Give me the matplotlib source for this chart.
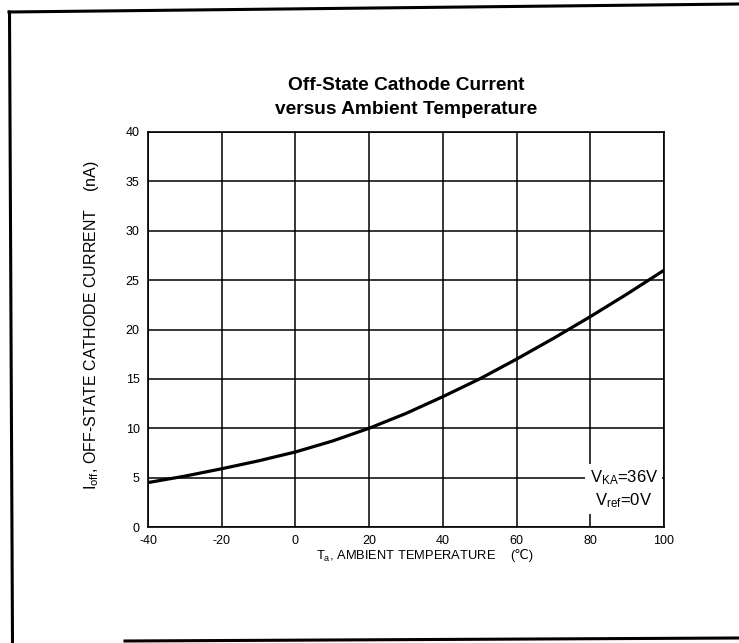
import matplotlib
matplotlib.use("Agg")
import matplotlib.pyplot as plt
from matplotlib.lines import Line2D

plt.rcParams['font.family'] = ['Liberation Sans', 'DejaVu Sans']
plt.rcParams['mathtext.fontset'] = 'custom'
plt.rcParams['mathtext.rm'] = 'Liberation Sans'
plt.rcParams['mathtext.it'] = 'Liberation Sans'
plt.rcParams['axes.unicode_minus'] = False

# data
temp_c = [-40, -30, -20, -10, 0, 10, 20, 30, 40, 50, 60, 70, 80, 90, 100]
i_off = [4.5, 5.15, 5.9, 6.7, 7.6, 8.7, 10.0, 11.5, 13.2, 15.0, 17.0, 19.1, 21.3, 23.6, 26.0]
x_ticks = [-40, -20, 0, 20, 40, 60, 80, 100]
y_ticks = [0, 5, 10, 15, 20, 25, 30, 35, 40]

W, H = 739, 643
fig = plt.figure(figsize=(W / 100, H / 100), dpi=100)
ax = fig.add_axes([148 / W, 1 - 527 / H, (664 - 148) / W, (527 - 132) / H])

def fx(px):
    return px / W

def fy(py):
    return 1 - py / H

ax.plot(temp_c, i_off, color='black', lw=2.3, zorder=3)
ax.set_xlim(-40, 100)
ax.set_ylim(0, 40)
ax.set_xticks(x_ticks)
ax.set_yticks(y_ticks)
ax.grid(True, color='black', lw=1.1)
ax.tick_params(length=0, labelsize=9, pad=6)
for s in ax.spines.values():
    s.set_linewidth(1.2)

# title, two lines
fig.text(fx(406), fy(90), 'Off-State Cathode Current', ha='center', va='baseline',
         fontsize=13.8, fontweight='bold')
fig.text(fx(406), fy(114), 'versus Ambient Temperature', ha='center', va='baseline',
         fontsize=13.8, fontweight='bold')

# axis labels
fig.text(fx(316), fy(556), r'$\mathregular{T_a}$, AMBIENT TEMPERATURE', ha='left', va='center',
         fontsize=9.3)
fig.text(fx(522), fy(556), '(℃)', ha='center', va='center', fontsize=9.3)
fig.text(fx(92), fy(325), r'$\mathregular{I_{off}}$, OFF-STATE CATHODE CURRENT    (nA)',
         ha='center', va='center', rotation=90, fontsize=11.5)

ax.text(0.922, 0.096, r'$\mathregular{V_{KA}}$=36V' + '\n' + r'$\mathregular{V_{ref}}$=0V',
        transform=ax.transAxes, ha='center', va='center', fontsize=12, linespacing=1.3,
        bbox=dict(facecolor='white', edgecolor='none', pad=3), zorder=4)

# scanned page frame
fig.add_artist(Line2D([fx(9.5), fx(12.5)], [fy(12), 0], transform=fig.transFigure,
                      color='black', lw=2.2))
fig.add_artist(Line2D([fx(9), 1], [fy(12), fy(4)], transform=fig.transFigure,
                      color='black', lw=2.2))
fig.add_artist(Line2D([fx(125), 1], [fy(641), fy(638)], transform=fig.transFigure,
                      color='black', lw=2.2))

fig.savefig('out.png', dpi=100)
